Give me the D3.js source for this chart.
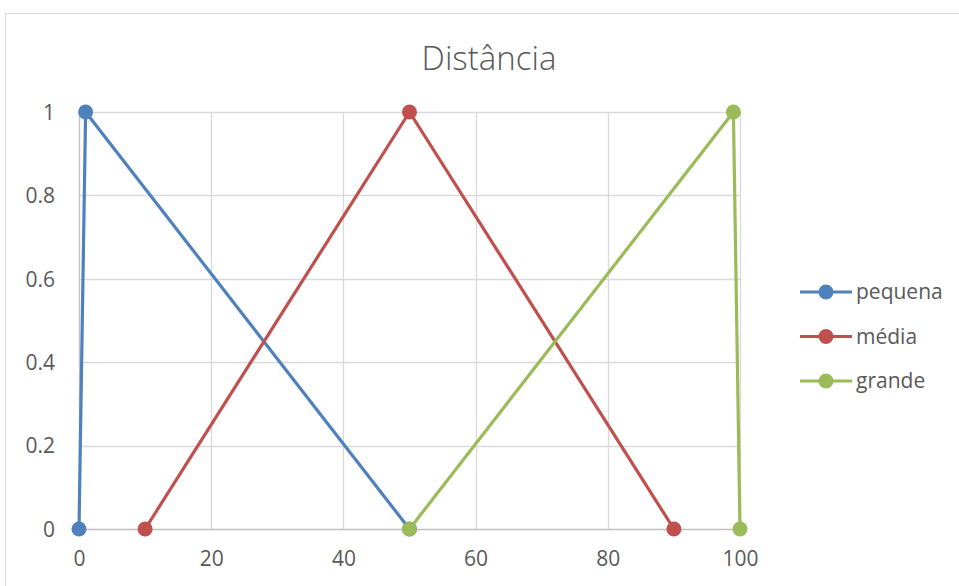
<!DOCTYPE html>
<html>
<head>
<meta charset="utf-8">
<script src="https://cdn.jsdelivr.net/npm/d3@7"></script>
<style>
  body { margin: 0; background: #fff; }
  svg { font-family: "Open Sans", Lato, sans-serif; }
</style>
</head>
<body>
<div id="chart"></div>
<script>
// data
const seriesNames = ["pequena", "média", "grande"];
const seriesColors = ["#4F81BD", "#C0504D", "#9BBB59"];
const pequenaX = [0, 1, 50];
const pequenaY = [0, 1, 0];
const mediaX = [10, 50, 90];
const mediaY = [0, 1, 0];
const grandeX = [50, 99, 100];
const grandeY = [0, 1, 0];
const xTicks = [0, 20, 40, 60, 80, 100];
const yTicks = [0, 0.2, 0.4, 0.6, 0.8, 1];

const series = [
    { name: seriesNames[0], color: seriesColors[0], pts: pequenaX.map((x, i) => [x, pequenaY[i]]) },
    { name: seriesNames[1], color: seriesColors[1], pts: mediaX.map((x, i) => [x, mediaY[i]]) },
    { name: seriesNames[2], color: seriesColors[2], pts: grandeX.map((x, i) => [x, grandeY[i]]) }
];

const width = 959, height = 586;
const svg = d3.select("#chart").append("svg")
    .attr("width", width)
    .attr("height", height);

// chart frame
svg.append("rect")
    .attr("x", 5.5).attr("y", 13.5)
    .attr("width", 960).attr("height", 600)
    .attr("fill", "none")
    .attr("stroke", "#d9d9d9");

const x = d3.scaleLinear().domain([0, 100]).range([79, 740]);
const y = d3.scaleLinear().domain([0, 1]).range([529, 112]);

// title
svg.append("text")
    .attr("x", 489).attr("y", 70)
    .attr("text-anchor", "middle")
    .attr("fill", "#595959")
    .style("font-size", "33px")
    .style("font-weight", 300)
    .text("Distância");

// grid
svg.append("g").selectAll("line")
    .data(yTicks)
    .enter().append("line")
    .attr("x1", x(0)).attr("x2", x(100))
    .attr("y1", d => Math.round(y(d)) + 0.5).attr("y2", d => Math.round(y(d)) + 0.5)
    .attr("stroke", d => d === 0 ? "#bfbfbf" : "#d9d9d9")
    .attr("stroke-width", 1.3);

svg.append("g").selectAll("line")
    .data(xTicks)
    .enter().append("line")
    .attr("y1", y(0)).attr("y2", y(1))
    .attr("x1", d => Math.round(x(d)) + 0.5).attr("x2", d => Math.round(x(d)) + 0.5)
    .attr("stroke", d => d === 0 ? "#bfbfbf" : "#d9d9d9")
    .attr("stroke-width", 1.3);

// axes (labels only, Excel style)
const yAxis = svg.append("g")
    .attr("transform", "translate(58,0)")
    .call(d3.axisLeft(y).tickValues(yTicks).tickSize(0).tickFormat(d3.format("")));
yAxis.select(".domain").remove();
yAxis.selectAll("text").attr("fill", "#595959").style("font-size", "21px").attr("dy", "0.35em");

const xAxis = svg.append("g")
    .attr("transform", "translate(0,548)")
    .call(d3.axisBottom(x).tickValues(xTicks).tickSize(0).tickFormat(d3.format("")));
xAxis.select(".domain").remove();
xAxis.selectAll("text").attr("fill", "#595959").style("font-size", "21px").attr("dy", "0.71em");
svg.selectAll(".tick text").style("font-family", "'Open Sans', Lato, sans-serif");

// lines + markers
const line = d3.line().x(d => x(d[0])).y(d => y(d[1]));

series.forEach(s => {
    svg.append("path")
        .attr("d", line(s.pts))
        .attr("fill", "none")
        .attr("stroke", s.color)
        .attr("stroke-width", 3.2)
        .attr("stroke-linejoin", "round");
    svg.append("g").selectAll("circle")
        .data(s.pts)
        .enter().append("circle")
        .attr("cx", d => x(d[0]))
        .attr("cy", d => y(d[1]))
        .attr("r", 7.5)
        .attr("fill", s.color);
});

// legend
const legend = svg.append("g").selectAll("g")
    .data(series)
    .enter().append("g")
    .attr("transform", (d, i) => `translate(800,${292 + i * 44.5})`);
legend.append("line")
    .attr("x1", 0).attr("x2", 52)
    .attr("stroke", d => d.color)
    .attr("stroke-width", 3.2);
legend.append("circle")
    .attr("cx", 26).attr("r", 7.5)
    .attr("fill", d => d.color);
legend.append("text")
    .attr("x", 56).attr("dy", "0.35em")
    .attr("fill", "#595959")
    .style("font-size", "21px")
    .text(d => d.name);
</script>
</body>
</html>
